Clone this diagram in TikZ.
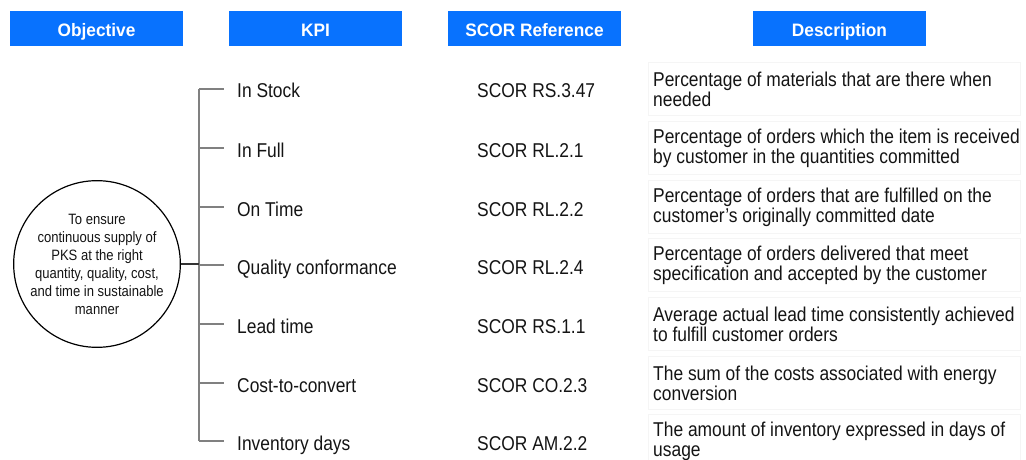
\documentclass[tikz,border=0pt]{standalone}
\usepackage{fontspec}
\setmainfont{Liberation Sans}[FakeStretch=0.87]
\newfontfamily\hdrfont{Liberation Sans}[FakeStretch=0.96]
\definecolor{hdrblue}{RGB}{8,114,254}
\definecolor{txtdark}{RGB}{20,20,20}
\tikzset{
  hdr/.style={fill=hdrblue, minimum width=173pt, minimum height=35pt, inner sep=0pt,
    text height=16pt, text depth=0pt, text=white, font=\hdrfont\bfseries\fontsize{18}{20}\selectfont},
  kpitext/.style={anchor=base west, inner sep=0pt, text=txtdark, font=\fontsize{20}{20}\selectfont},
  descbox/.style={anchor=west, draw=black!4, minimum width=372pt, minimum height=53pt, inner sep=0pt},
  desctext/.style={anchor=west, inner sep=0pt, align=left, text=txtdark, font=\fontsize{20}{20}\selectfont},
  branch/.style={draw=black!50, line width=1.2pt}
}
\begin{document}
\begin{tikzpicture}[x=1pt,y=-1pt]
    \useasboundingbox (0,0) rectangle (1026,460);
    % column headers
    \node[hdr] (hobj)  at (96.5,29)  {Objective};
    \node[hdr] (hkpi)  at (315.5,29) {KPI};
    \node[hdr] (hscor) at (534.5,29) {SCOR Reference};
    \node[hdr] (hdesc) at (839.5,29) {Description};

    % objective circle
    \node[circle, draw, line width=1.2pt, minimum size=152pt, inner sep=0pt, align=center,
      text=txtdark, font=\fontsize{15}{18}\selectfont] (obj) at (97,264)
      {To ensure\\continuous supply of\\PKS at the right\\quantity, quality, cost,\\and time in sustainable\\manner};

    % one row per KPI
    \foreach \y/\k/\s/\d [count=\i] in {
      89/In Stock/SCOR RS.3.47/{Percentage of materials that are there when\\needed},
      148/In Full/SCOR RL.2.1/{Percentage of orders which the item is received\\by customer in the quantities committed},
      207/On Time/SCOR RL.2.2/{Percentage of orders that are fulfilled on the\\customer's originally committed date},
      265/Quality conformance/SCOR RL.2.4/{Percentage of orders delivered that meet\\specification and accepted by the customer},
      324/Lead time/SCOR RS.1.1/{Average actual lead time consistently achieved\\to fulfill customer orders},
      383/Cost-to-convert/SCOR CO.2.3/{The sum of the costs associated with energy\\conversion},
      441/Inventory days/SCOR AM.2.2/{The amount of inventory expressed in days of\\usage}}{
    \coordinate (br\i) at (199,\y);
    \coordinate (tip\i) at (224,\y);
    \node[kpitext] (kpi\i) at (237,\y+9) {\k};
    \node[kpitext] (scor\i) at (477,\y+9) {\s};
    \node[descbox] (box\i) at (648,\y) {};
    \node[desctext] (desc\i) at (653,\y) {\d};
    \draw[branch] (br\i) -- (tip\i);
    } % branches to each KPI

    \draw[branch] (br1) -- (br7); % trunk
    \draw[line width=1.2pt, black!80] (obj.east) -- (obj.east -| br1);
\end{tikzpicture}
\end{document}
